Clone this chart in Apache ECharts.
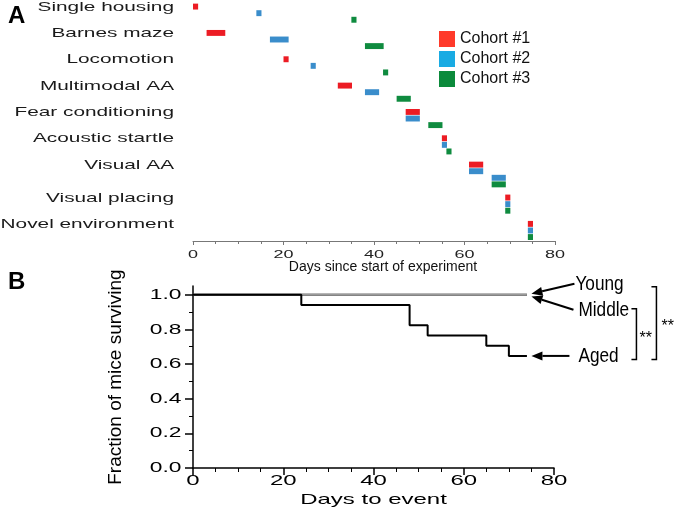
<!DOCTYPE html>
<html>
<head>
<meta charset="utf-8">
<script src="https://cdn.jsdelivr.net/npm/echarts@6/dist/echarts.min.js"></script>
<style>
html,body{margin:0;padding:0;background:#fff;}
#c{width:681px;height:511px;}
</style>
</head>
<body>
<div id="c"></div>
<script>
// ---------------- data ----------------
const taskNames = ['Single housing','Barnes maze','Locomotion','Multimodal AA','Fear conditioning','Acoustic startle','Visual AA','Visual placing','Novel environment'];
const cohortNames = ['Cohort #1','Cohort #2','Cohort #3'];
// [task, start day, end day]
const cohort1Sessions = [
  ['Single housing',0,1],['Barnes maze',3,7],['Locomotion',20,21],['Multimodal AA',32,35],
  ['Fear conditioning',47,50],['Acoustic startle',55,56],['Visual AA',61,64],
  ['Visual placing',69,70],['Novel environment',74,75]
];
const cohort2Sessions = [
  ['Single housing',14,15],['Barnes maze',17,21],['Locomotion',26,27],['Multimodal AA',38,41],
  ['Fear conditioning',47,50],['Acoustic startle',55,56],['Visual AA',61,64],['Visual AA',66,69],
  ['Visual placing',69,70],['Novel environment',74,75]
];
const cohort3Sessions = [
  ['Single housing',35,36],['Barnes maze',38,42],['Locomotion',42,43],['Multimodal AA',45,48],
  ['Fear conditioning',52,55],['Acoustic startle',56,57],['Visual AA',66,69],
  ['Visual placing',69,70],['Novel environment',74,75]
];
const dayTicks = [0,20,40,60,80];
const survivalTicks = [0,0.2,0.4,0.6,0.8,1.0];
const survivalMinorTicks = [0.1,0.3,0.5,0.7,0.9];
const survivalTickLabels = ['0.0','0.2','0.4','0.6','0.8','1.0'];
const groupLabels = ['Young','Middle','Aged'];
const youngDays = [0,74];
const youngSurvival = [1.0,1.0];
const middleDays = [0,74];
const middleSurvival = [1.0,1.0];
const agedDays = [0,24,48,52,65,70,74];
const agedSurvival = [1.0,0.941,0.824,0.765,0.706,0.647,0.647];
const significanceLabels = ['**','**'];

// ---------------- layout helpers ----------------
const FONT = '"Liberation Sans", Arial, Helvetica, sans-serif';
const barColors = ['#EC1C24','#3A8DCB','#0F8B3F'];
const legendColors = ['#FF3A2A','#19ABE3','#0B8A3B'];

// assign lanes: sessions of each task stacked, one empty lane between tasks
const sessionsByCohort = [cohort1Sessions, cohort2Sessions, cohort3Sessions];
const bars = [[],[],[]];
const taskLane = [];
let lane = 0;
taskNames.forEach(function (t) {
  taskLane.push(lane);
  sessionsByCohort.forEach(function (list, ci) {
    list.forEach(function (s) {
      if (s[0] === t) { bars[ci].push([s[1], s[2], lane]); lane++; }
    });
  });
  lane++;
});
const LANE_MIN = -1, LANE_MAX = 35.6;

function zip(xs, ys) { return xs.map(function (x, i) { return [x, ys[i]]; }); }

function textLayer(gridIndex, points, labels, look) {
  return {
    type: 'custom', xAxisIndex: gridIndex, yAxisIndex: gridIndex, silent: true, clip: false, z: 5,
    data: points,
    renderItem: function (params, api) {
      const p = api.coord([api.value(0), api.value(1)]);
      return {
        type: 'text', x: p[0] + (look.dx || 0), y: p[1] + (look.dy || 0), scaleX: look.scaleX || 1,
        style: {
          text: labels[params.dataIndex], fontSize: look.size, fontFamily: FONT,
          fontWeight: look.weight || 'normal', fill: look.color,
          align: look.align, verticalAlign: 'middle'
        }
      };
    }
  };
}

function barSeries(ci) {
  return {
    name: cohortNames[ci], type: 'custom', xAxisIndex: 0, yAxisIndex: 0,
    itemStyle: { color: barColors[ci] },
    encode: { x: [0, 1], y: 2 },
    data: bars[ci],
    renderItem: function (params, api) {
      const s = api.coord([api.value(0), api.value(2)]);
      const e = api.coord([api.value(1), api.value(2)]);
      const h = api.size([0, 1])[1] * 0.9;
      return {
        type: 'rect',
        shape: { x: s[0], y: s[1] - h / 2, width: e[0] - s[0] + 0.6, height: h },
        style: { fill: barColors[ci] }
      };
    }
  };
}

function arrow(x1, y1, x2, y2) {
  const ang = Math.atan2(y2 - y1, x2 - x1), L = 11, W = 4.5;
  const bx = x2 - L * Math.cos(ang), by = y2 - L * Math.sin(ang);
  const px = -Math.sin(ang) * W, py = Math.cos(ang) * W;
  return [
    { type: 'line', shape: { x1: x1, y1: y1, x2: bx, y2: by }, style: { stroke: '#000', lineWidth: 2 } },
    { type: 'polygon', shape: { points: [[x2, y2], [bx + px, by + py], [bx - px, by - py]] }, style: { fill: '#000' } }
  ];
}
function annText(t, x, y, size, sx) {
  return { type: 'text', x: x, y: y, scaleX: sx, style: { text: t, fontSize: size, fontFamily: FONT, fill: '#000', align: 'left', verticalAlign: 'middle' } };
}
function bracket(x, y1, y2) {
  return { type: 'polyline', shape: { points: [[x - 5, y1], [x, y1], [x, y2], [x - 5, y2]] }, style: { stroke: '#000', lineWidth: 1.5, fill: null } };
}

const ARROW_DAY = 75;
const annotationSeries = {
  type: 'custom', xAxisIndex: 1, yAxisIndex: 1, silent: true, clip: false, z: 6,
  data: [[ARROW_DAY, youngSurvival[youngSurvival.length - 1], middleSurvival[middleSurvival.length - 1], agedSurvival[agedSurvival.length - 1]]],
  renderItem: function (params, api) {
    const yp = api.coord([api.value(0), api.value(1)]);
    const mp = api.coord([api.value(0), api.value(2)]);
    const ap = api.coord([api.value(0), api.value(3)]);
    const tx = yp[0];
    let ch = [];
    ch = ch.concat(arrow(tx + 43, yp[1] - 11, tx, yp[1] - 1));
    ch = ch.concat(arrow(tx + 42, mp[1] + 15, tx, mp[1] + 1.7));
    ch = ch.concat(arrow(tx + 38, ap[1], tx, ap[1]));
    ch.push(annText(groupLabels[0], tx + 44, yp[1] - 11, 21, 0.82));
    ch.push(annText(groupLabels[1], tx + 47, mp[1] + 15, 21, 0.82));
    ch.push(annText(groupLabels[2], tx + 47, ap[1] + 0.5, 21, 0.82));
    const innerTop = mp[1] + 14, outerTop = yp[1] - 8, bottom = ap[1] + 3.6;
    ch.push(bracket(tx + 105, innerTop, bottom));
    ch.push(bracket(tx + 125, outerTop, bottom));
    ch.push(annText(significanceLabels[0], tx + 108, (innerTop + bottom) / 2 + 4, 16, 1));
    ch.push(annText(significanceLabels[1], tx + 130, (outerTop + bottom) / 2 + 3.5, 16, 1));
    return { type: 'group', children: ch };
  }
};

const option = {
  animation: false,
  backgroundColor: '#fff',
  textStyle: { fontFamily: FONT },
  legend: {
    orient: 'vertical', left: 434, top: 26, itemWidth: 16, itemHeight: 16, itemGap: 4,
    icon: 'rect', selectedMode: false,
    textStyle: { fontSize: 16, color: '#111', fontFamily: FONT },
    data: cohortNames.map(function (n, i) { return { name: n, itemStyle: { color: legendColors[i] } }; })
  },
  graphic: [
    { type: 'text', left: 8, top: 4, style: { text: 'A', fontSize: 24, fontWeight: 'bold', fontFamily: FONT, fill: '#000' } },
    { type: 'text', left: 8, top: 270, style: { text: 'B', fontSize: 24, fontWeight: 'bold', fontFamily: FONT, fill: '#000' } }
  ],
  grid: [
    { left: 193, top: 0, width: 362, height: 241 },
    { left: 193, top: 286.1, width: 361, height: 181.9 }
  ],
  xAxis: [
    {
      gridIndex: 0, type: 'value', min: 0, max: 80, interval: 20, position: 'bottom',
      axisLine: { onZero: false, lineStyle: { color: '#777', width: 1 } },
      axisTick: { length: 4, lineStyle: { color: '#777' } },
      minorTick: { show: true, splitNumber: 4, length: 3, lineStyle: { color: '#777' } },
      axisLabel: { show: false }, splitLine: { show: false }, minorSplitLine: { show: false },
      name: 'Days since start of experiment', nameLocation: 'middle', nameGap: 19,
      nameTextStyle: { fontSize: 14, color: '#111', fontFamily: FONT, padding: [0, 0, 0, 18] }
    },
    {
      gridIndex: 1, type: 'value', min: 0, max: 80, interval: 20, position: 'bottom',
      axisLine: { onZero: false, lineStyle: { color: '#000', width: 1.5 } },
      axisTick: { length: 7, lineStyle: { color: '#000', width: 1.5 } },
      minorTick: { show: true, splitNumber: 4, length: 4, lineStyle: { color: '#000', width: 1 } },
      axisLabel: { show: false }, splitLine: { show: false }, minorSplitLine: { show: false }
    }
  ],
  yAxis: [
    { gridIndex: 0, type: 'value', inverse: true, min: LANE_MIN, max: LANE_MAX, show: false },
    {
      gridIndex: 1, type: 'value', min: 0, max: 1.05,
      axisLine: { show: true, onZero: false, lineStyle: { color: '#000', width: 1.5 } },
      axisTick: { show: true, customValues: survivalTicks, length: 8, lineStyle: { color: '#000', width: 1.5 } },
      axisLabel: { show: false }, splitLine: { show: false },
      name: 'Fraction of mice surviving', nameLocation: 'middle', nameGap: 68,
      nameTextStyle: { fontSize: 19, color: '#000', fontFamily: '"Liberation Sans Narrow", "Arial Narrow", "Liberation Sans", sans-serif' }
    },
    {
      gridIndex: 1, type: 'value', min: 0, max: 1.05, position: 'left',
      axisLine: { show: false },
      axisTick: { show: true, customValues: survivalMinorTicks, length: 4, lineStyle: { color: '#000', width: 1 } },
      axisLabel: { show: false }, splitLine: { show: false }
    }
  ],
  series: [
    barSeries(0), barSeries(1), barSeries(2),
    textLayer(0, taskLane.map(function (l) { return [0, l]; }), taskNames,
      { dx: -19, dy: 0.5, size: 13, scaleX: 1.6, color: '#1a1a1a', align: 'right' }),
    textLayer(0, dayTicks.map(function (d) { return [d, LANE_MAX]; }), dayTicks.map(String),
      { dy: 14, size: 10, scaleX: 1.8, color: '#222', align: 'center' }),
    textLayer(1, dayTicks.map(function (d) { return [d, 0]; }), dayTicks.map(String),
      { dy: 12.5, size: 15, scaleX: 1.6, color: '#000', align: 'center' }),
    textLayer(1, survivalTicks.map(function (v) { return [0, v]; }), survivalTickLabels,
      { dx: -11.5, dy: 0, size: 15, scaleX: 1.52, color: '#000', align: 'right' }),
    textLayer(1, [[40, 0]], ['Days to event'],
      { dy: 31.5, size: 15, scaleX: 1.6, color: '#000', align: 'center' }),
    {
      name: groupLabels[1], type: 'line', xAxisIndex: 1, yAxisIndex: 1, step: 'end', symbol: 'none',
      data: zip(middleDays, middleSurvival), lineStyle: { color: '#000', width: 2 }, silent: true
    },
    {
      name: groupLabels[0], type: 'line', xAxisIndex: 1, yAxisIndex: 1, step: 'end', symbol: 'none',
      data: zip(youngDays, youngSurvival), lineStyle: { color: '#9a9a9a', width: 2 }, silent: true
    },
    {
      name: groupLabels[2], type: 'line', xAxisIndex: 1, yAxisIndex: 1, step: 'end', symbol: 'none',
      data: zip(agedDays, agedSurvival), lineStyle: { color: '#000', width: 2 }, silent: true
    },
    annotationSeries
  ]
};

const chart = echarts.init(document.getElementById('c'));
chart.setOption(option);
</script>
</body>
</html>
